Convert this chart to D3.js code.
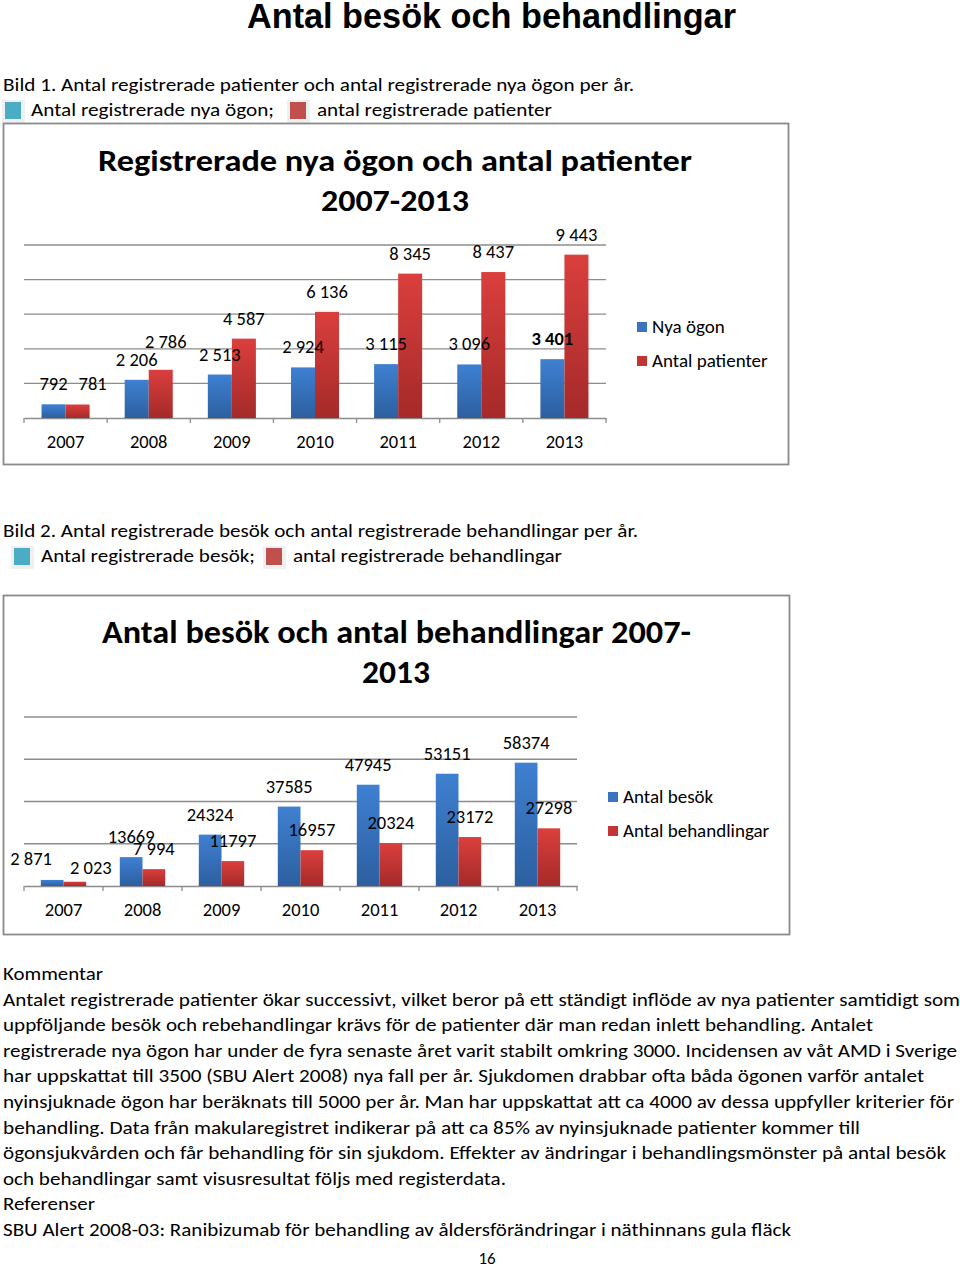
<!DOCTYPE html>
<html>
<head>
<meta charset="utf-8">
<script src="https://cdn.jsdelivr.net/npm/d3@7"></script>
<style>
  body { margin: 0; background: #fff; }
  svg text { font-family: Carlito, Lato, "Open Sans", sans-serif; fill: #000; }
</style>
</head>
<body>
<svg id="page" width="960" height="1268"></svg>
<script>
// ---- data ----
const years = ['2007', '2008', '2009', '2010', '2011', '2012', '2013'];

const newEyes = [792, 2206, 2513, 2924, 3115, 3096, 3401];
const patients = [781, 2786, 4587, 6136, 8345, 8437, 9443];
const newEyesLabels = ['792', '2 206', '2 513', '2 924', '3 115', '3 096', '3 401'];
const patientsLabels = ['781', '2 786', '4 587', '6 136', '8 345', '8 437', '9 443'];

const visits = [2871, 13669, 24324, 37585, 47945, 53151, 58374];
const treatments = [2023, 7994, 11797, 16957, 20324, 23172, 27298];
const visitsLabels = ['2 871', '13669', '24324', '37585', '47945', '53151', '58374'];
const treatmentsLabels = ['2 023', '7 994', '11797', '16957', '20324', '23172', '27298'];

const bodyLines = [
  'Kommentar',
  'Antalet registrerade patienter ökar successivt, vilket beror på ett ständigt inflöde av nya patienter samtidigt som',
  'uppföljande besök och rebehandlingar krävs för de patienter där man redan inlett behandling. Antalet',
  'registrerade nya ögon har under de fyra senaste året varit stabilt omkring 3000. Incidensen av våt AMD i Sverige',
  'har uppskattat till 3500 (SBU Alert 2008) nya fall per år. Sjukdomen drabbar ofta båda ögonen varför antalet',
  'nyinsjuknade ögon har beräknats till 5000 per år. Man har uppskattat att ca 4000 av dessa uppfyller kriterier för',
  'behandling.  Data från makularegistret indikerar på att ca 85% av nyinsjuknade patienter kommer till',
  'ögonsjukvården och får behandling för sin sjukdom. Effekter av ändringar i behandlingsmönster på antal besök',
  'och behandlingar samt visusresultat följs med registerdata.',
  'Referenser',
  'SBU Alert 2008-03: Ranibizumab för behandling av åldersförändringar i näthinnans gula fläck'
];
// right edge of each body line in the reference (layout only)
const bodyLineEnds = [103, 960, 873, 957, 924, 954, 860, 946, 506, 95, 791];

const svg = d3.select('#page');

// gradients for bars
const defs = svg.append('defs');
function grad(id, top, bottom) {
  const g = defs.append('linearGradient').attr('id', id)
    .attr('x1', 0).attr('y1', 0).attr('x2', 0).attr('y2', 1);
  g.append('stop').attr('offset', '0%').attr('stop-color', top);
  g.append('stop').attr('offset', '100%').attr('stop-color', bottom);
}
grad('gBlue', '#3f80d2', '#2c5f9f');
grad('gRed', '#da3f3d', '#a42a29');

// page title
svg.append('text')
  .attr('x', 247).attr('y', 28)
  .attr('textLength', 489).attr('lengthAdjust', 'spacingAndGlyphs')
  .style('font-family', '"Liberation Sans Narrow", "Liberation Sans", Arial, sans-serif')
  .style('font-weight', 'bold').style('font-size', '35px')
  .text('Antal besök och behandlingar');

// caption lines with little coloured squares
function caption(y, line1, line1End, items) {
  svg.append('text').attr('x', 3).attr('y', y)
    .attr('textLength', line1End - 3).attr('lengthAdjust', 'spacingAndGlyphs')
    .style('font-size', '19px').text(line1);
  items.forEach(it => {
    svg.append('rect').attr('x', it.sx - 3).attr('y', y + 9).attr('width', 23).attr('height', 23)
      .attr('fill', '#f0f0f0');
    svg.append('rect').attr('x', it.sx).attr('y', y + 11).attr('width', 16).attr('height', 17)
      .attr('fill', it.color);
    svg.append('text').attr('x', it.tx).attr('y', y + 25)
      .attr('textLength', it.tEnd - it.tx).attr('lengthAdjust', 'spacingAndGlyphs')
      .style('font-size', '19px').text(it.text);
  });
}
caption(91, 'Bild 1. Antal registrerade patienter och antal registrerade nya ögon per år.', 634, [
  { sx: 5, tx: 31, tEnd: 274, color: '#4bacc6', text: 'Antal registrerade nya ögon;' },
  { sx: 290, tx: 317, tEnd: 552, color: '#c0504d', text: 'antal registrerade patienter' }
]);
caption(537, 'Bild 2. Antal registrerade besök och antal registrerade behandlingar per år.', 638, [
  { sx: 14, tx: 41, tEnd: 255, color: '#4bacc6', text: 'Antal registrerade besök;' },
  { sx: 266, tx: 293, tEnd: 562, color: '#c0504d', text: 'antal registrerade behandlingar' }
]);

// one clustered bar chart
function barChart(o) {
  const g = svg.append('g');

  g.append('rect')
    .attr('x', o.frame[0]).attr('y', o.frame[1])
    .attr('width', o.frame[2]).attr('height', o.frame[3])
    .attr('fill', '#fff').attr('stroke', '#8a8a8a').attr('stroke-width', 1.8);

  o.titles.forEach(t => {
    g.append('text').attr('x', t.x).attr('y', t.y)
      .attr('textLength', t.w).attr('lengthAdjust', 'spacingAndGlyphs')
      .style('font-size', o.titleSize + 'px').style('font-weight', 'bold')
      .text(t.text);
  });

  const x = d3.scaleBand().domain(years).range([o.left, o.right]).padding(0);
  const x1 = d3.scaleBand().domain(['a', 'b']).range([0, x.bandwidth()])
    .paddingInner(0).paddingOuter(o.outer);
  const y = d3.scaleLinear().domain([0, o.max]).range([o.base, o.top]);

  // gridlines
  g.selectAll('.grid').data(y.ticks(o.ticks).filter(d => d > 0))
    .enter().append('line')
    .attr('x1', o.left).attr('x2', o.right)
    .attr('y1', d => y(d)).attr('y2', d => y(d))
    .attr('stroke', '#8c8c8c').attr('stroke-width', 1.3);

  // category axis
  const ax = g.append('g').attr('transform', `translate(0,${o.base})`)
    .call(d3.axisBottom(x).tickSize(0).tickPadding(o.yearPad));
  ax.select('.domain').attr('stroke', '#8c8c8c').attr('stroke-width', 1.3);
  ax.selectAll('text').style('font-size', '18.5px')
    .style('font-family', 'Carlito, Lato, "Open Sans", sans-serif').attr('fill', '#000');
  ax.selectAll('.sep').data(d3.range(years.length + 1))
    .enter().append('line')
    .attr('x1', i => o.left + i * x.step()).attr('x2', i => o.left + i * x.step())
    .attr('y1', 0).attr('y2', 5)
    .attr('stroke', '#8c8c8c').attr('stroke-width', 1.3);

  const series = [
    { key: 'a', vals: o.s1, labels: o.l1, fill: 'url(#gBlue)' },
    { key: 'b', vals: o.s2, labels: o.l2, fill: 'url(#gRed)' }
  ];

  series.forEach(s => {
    g.selectAll(null).data(s.vals).enter().append('rect')
      .attr('x', (d, i) => x(years[i]) + x1(s.key))
      .attr('width', x1.bandwidth())
      .attr('y', d => y(d))
      .attr('height', d => o.base - y(d))
      .attr('fill', s.fill);
  });

  series.forEach(s => {
    g.selectAll(null).data(s.vals).enter().append('text')
      .attr('x', (d, i) => x(years[i]) + x1(s.key) + x1.bandwidth() / 2 + (o.nudge[s.labels[i]] || [0, 0])[0])
      .attr('y', (d, i) => y(d) - 14 + (o.nudge[s.labels[i]] || [0, 0])[1])
      .attr('text-anchor', 'middle')
      .style('font-size', '18.5px')
      .style('font-weight', (d, i) => o.bold.includes(s.labels[i]) ? 'bold' : 'normal')
      .text((d, i) => s.labels[i]);
  });

  // legend
  o.legend.forEach((name, i) => {
    const ly = o.legendY + i * 34;
    g.append('rect').attr('x', o.legendX).attr('y', ly - 5).attr('width', 10).attr('height', 10)
      .attr('fill', i === 0 ? '#3a73c2' : '#c33534');
    g.append('text').attr('x', o.legendX + 15).attr('y', ly + 6)
      .style('font-size', '19px').text(name);
  });
}

barChart({
  frame: [3.5, 123.5, 785, 341],
  titleSize: 31,
  titles: [
    { x: 98, y: 171, w: 594, text: 'Registrerade nya ögon och antal patienter' },
    { x: 321, y: 211, w: 148, text: '2007-2013' }
  ],
  left: 24, right: 606, base: 418, top: 245, max: 10000, ticks: 5, outer: 0.73,
  yearPad: 17,
  s1: newEyes, s2: patients, l1: newEyesLabels, l2: patientsLabels,
  nudge: { '781': [15, 0], '2 786': [5, -8] },
  bold: ['3 401'],
  legend: ['Nya ögon', 'Antal patienter'],
  legendX: 637, legendY: 327
});

barChart({
  frame: [3.5, 595.5, 786, 339],
  titleSize: 32,
  titles: [
    { x: 102, y: 643, w: 589, text: 'Antal besök och antal behandlingar 2007-' },
    { x: 362, y: 683, w: 68, text: '2013' }
  ],
  left: 24, right: 577, base: 886, top: 717, max: 80000, ticks: 4, outer: 0.74,
  yearPad: 17,
  s1: visits, s2: treatments, l1: visitsLabels, l2: treatmentsLabels,
  nudge: { '2 871': [-21, -1], '2 023': [16, 6] },
  bold: [],
  legend: ['Antal besök', 'Antal behandlingar'],
  legendX: 608, legendY: 797
});

// comment text
bodyLines.forEach((line, i) => {
  svg.append('text')
    .attr('x', 3).attr('y', 980 + i * 25.6)
    .attr('textLength', bodyLineEnds[i] - 3).attr('lengthAdjust', 'spacingAndGlyphs')
    .style('font-size', '19px')
    .text(line);
});

svg.append('text').attr('x', 487).attr('y', 1264).attr('text-anchor', 'middle')
  .style('font-size', '17px').text('16');
</script>
</body>
</html>
